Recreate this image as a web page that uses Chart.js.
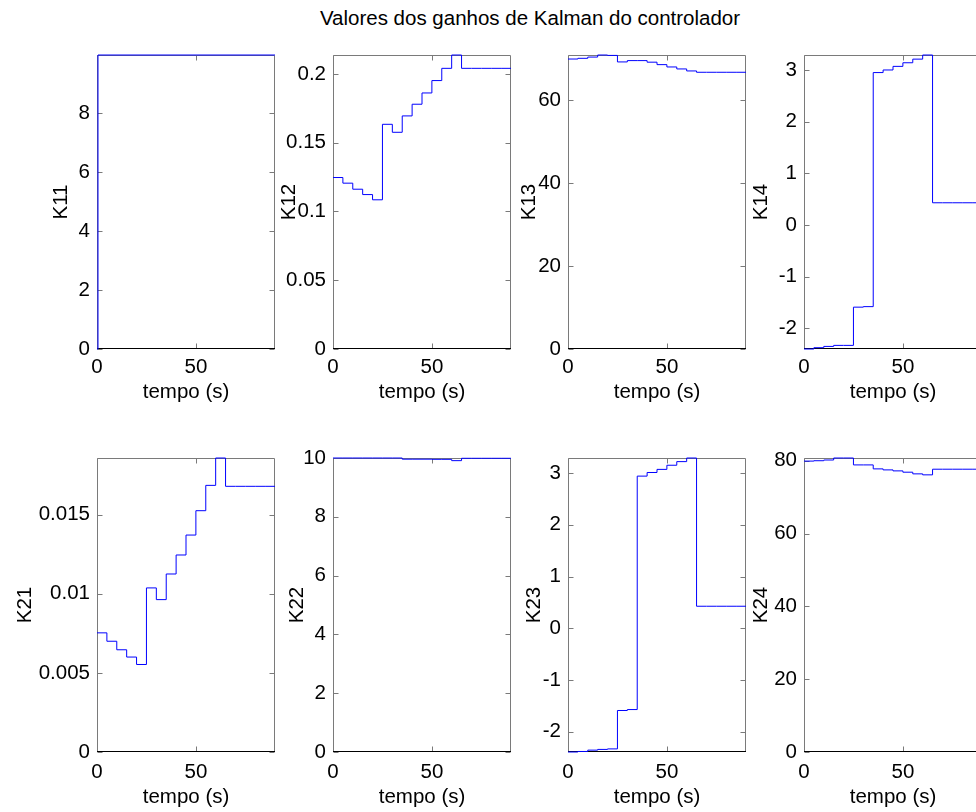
<!DOCTYPE html>
<html>
<head>
<meta charset="utf-8">
<script src="https://cdn.jsdelivr.net/npm/chart.js@4.4.1/dist/chart.umd.min.js"></script>
<style>
  html, body { margin: 0; padding: 0; background: #fff; overflow: hidden; }
  #wrap { position: relative; width: 976px; height: 812px; overflow: hidden; background: #fff; }
  #wrap canvas { position: absolute; }
  #title { position: absolute; left: 0; top: 8px; width: 1060px; text-align: center;
           font-family: "Liberation Sans", Arial, sans-serif; font-size: 20.5px; line-height: 20px; color: #000; white-space: nowrap; }
</style>
</head>
<body>
<div id="wrap">
  <div id="title">Valores dos ganhos de Kalman do controlador</div>
</div>
<script>
// ---------- DATA ----------
const figureTitle = 'Valores dos ganhos de Kalman do controlador';
const xAxisTitle = 'tempo (s)';
const xRange = [0, 90];
const xTicks = [0, 50];
const xTickLabels = ['0', '50'];

// sample times (zero-order hold, value holds until next sample)
const timeGrid = [0, 5, 10, 15, 20, 25, 30, 35, 40, 45, 50, 55, 60, 65, 70, 75, 80, 85, 90];
const timeK11 = [0, 0.5, 90];

const valuesK11 = [0, 9.98, 9.98];
const valuesK12 = [0.1247, 0.1206, 0.1162, 0.1123, 0.1085, 0.1634, 0.1576, 0.1695, 0.1780, 0.1862, 0.1952, 0.2041, 0.2138, 0.2041, 0.2041, 0.2041, 0.2041, 0.2041, 0.2041];
const valuesK13 = [69.83, 70.0, 70.3, 70.8, 70.7, 69.13, 69.45, 69.45, 69.07, 68.48, 67.92, 67.44, 66.96, 66.64, 66.64, 66.64, 66.64, 66.64, 66.64];
const valuesK14 = [-2.40, -2.375, -2.35, -2.33, -2.33, -1.59, -1.58, 2.95, 3.0, 3.07, 3.14, 3.21, 3.29, 0.43, 0.43, 0.43, 0.43, 0.43, 0.43];
const valuesK21 = [0.00753, 0.00700, 0.00646, 0.00600, 0.00553, 0.01037, 0.00963, 0.01125, 0.01245, 0.01371, 0.01525, 0.01685, 0.01858, 0.01679, 0.01679, 0.01679, 0.01679, 0.01679, 0.01679];
const valuesK22 = [10.0, 10.0, 10.0, 10.0, 10.0, 10.0, 10.0, 9.96, 9.96, 9.96, 9.955, 9.955, 9.91, 9.99, 9.99, 9.99, 9.99, 9.99, 9.99];
const valuesK23 = [-2.39, -2.38, -2.354, -2.34, -2.33, -1.588, -1.57, 2.94, 3.01, 3.07, 3.15, 3.22, 3.29, 0.426, 0.426, 0.426, 0.426, 0.426, 0.426];
const valuesK24 = [79.9, 80.0, 80.2, 80.75, 80.75, 78.85, 78.85, 77.76, 77.48, 77.21, 76.85, 76.39, 76.12, 77.67, 77.67, 77.67, 77.67, 77.67, 77.67];

const yRangeK11 = [0, 9.98];   const yTicksK11 = [0, 2, 4, 6, 8];            const yLabelsK11 = ['0', '2', '4', '6', '8'];
const yRangeK12 = [0, 0.2138]; const yTicksK12 = [0, 0.05, 0.1, 0.15, 0.2];  const yLabelsK12 = ['0', '0.05', '0.1', '0.15', '0.2'];
const yRangeK13 = [0, 70.8];   const yTicksK13 = [0, 20, 40, 60];            const yLabelsK13 = ['0', '20', '40', '60'];
const yRangeK14 = [-2.40, 3.29]; const yTicksK14 = [-2, -1, 0, 1, 2, 3];     const yLabelsK14 = ['-2', '-1', '0', '1', '2', '3'];
const yRangeK21 = [0, 0.01858]; const yTicksK21 = [0, 0.005, 0.01, 0.015];   const yLabelsK21 = ['0', '0.005', '0.01', '0.015'];
const yRangeK22 = [0, 10];     const yTicksK22 = [0, 2, 4, 6, 8, 10];        const yLabelsK22 = ['0', '2', '4', '6', '8', '10'];
const yRangeK23 = [-2.39, 3.29]; const yTicksK23 = [-2, -1, 0, 1, 2, 3];     const yLabelsK23 = ['-2', '-1', '0', '1', '2', '3'];
const yRangeK24 = [0, 80.75];  const yTicksK24 = [0, 20, 40, 60, 80];        const yLabelsK24 = ['0', '20', '40', '60', '80'];

// ---------- LAYOUT ----------
const FONT = '"Liberation Sans", Arial, sans-serif';
const FSIZE = 20.5;
const plotW = 178, plotH = 294;
const padTop = 20, padRight = 12;

const panels = [
  { name: 'K11', t: timeK11,  v: valuesK11, r: yRangeK11, tk: yTicksK11, lb: yLabelsK11, left: 97,  top: 55,  yw: 48, xh: 56, xp: 6 },
  { name: 'K12', t: timeGrid, v: valuesK12, r: yRangeK12, tk: yTicksK12, lb: yLabelsK12, left: 333, top: 55,  yw: 56, xh: 56, xp: 6 },
  { name: 'K13', t: timeGrid, v: valuesK13, r: yRangeK13, tk: yTicksK13, lb: yLabelsK13, left: 568, top: 55,  yw: 51, xh: 56, xp: 6 },
  { name: 'K14', t: timeGrid, v: valuesK14, r: yRangeK14, tk: yTicksK14, lb: yLabelsK14, left: 804, top: 55,  yw: 55, xh: 56, xp: 6 },
  { name: 'K21', t: timeGrid, v: valuesK21, r: yRangeK21, tk: yTicksK21, lb: yLabelsK21, left: 97,  top: 458, yw: 84, xh: 58, xp: 8 },
  { name: 'K22', t: timeGrid, v: valuesK22, r: yRangeK22, tk: yTicksK22, lb: yLabelsK22, left: 333, top: 458, yw: 48, xh: 58, xp: 8 },
  { name: 'K23', t: timeGrid, v: valuesK23, r: yRangeK23, tk: yTicksK23, lb: yLabelsK23, left: 568, top: 458, yw: 46, xh: 58, xp: 8 },
  { name: 'K24', t: timeGrid, v: valuesK24, r: yRangeK24, tk: yTicksK24, lb: yLabelsK24, left: 804, top: 458, yw: 55, xh: 58, xp: 8 }
];

const boxPlugin = {
  id: 'matlabBox',
  beforeDatasetsDraw(chart) {
    const { ctx, chartArea: a, scales: { x, y } } = chart;
    const L = Math.round(a.left) + 0.5, R = Math.round(a.right) - 0.5;
    const T = Math.round(a.top) + 0.5, B = Math.round(a.bottom) - 0.5;
    const tl = 5;
    ctx.save();
    ctx.lineWidth = 1;
    ctx.strokeStyle = '#7a7a7a';
    ctx.beginPath();
    ctx.moveTo(L, B); ctx.lineTo(L, T); ctx.lineTo(R, T); ctx.lineTo(R, B);
    x.ticks.forEach(t => {
      const px = Math.round(x.getPixelForValue(t.value)) + 0.5;
      ctx.moveTo(px, B); ctx.lineTo(px, B - tl);
      ctx.moveTo(px, T); ctx.lineTo(px, T + tl);
    });
    y.ticks.forEach(t => {
      const py = Math.round(y.getPixelForValue(t.value)) + 0.5;
      ctx.moveTo(L, py); ctx.lineTo(L + tl, py);
      ctx.moveTo(R, py); ctx.lineTo(R - tl, py);
    });
    ctx.stroke();
    ctx.strokeStyle = '#000';
    ctx.beginPath();
    ctx.moveTo(L - 0.5, B); ctx.lineTo(R + 0.5, B);
    ctx.stroke();
    ctx.restore();
  }
};

const wrap = document.getElementById('wrap');
panels.forEach(p => {
  const cv = document.createElement('canvas');
  const w = p.yw + plotW + padRight;
  const h = padTop + plotH + p.xh;
  cv.width = w; cv.height = h;
  cv.style.width = w + 'px'; cv.style.height = h + 'px';
  cv.style.left = (p.left - p.yw) + 'px';
  cv.style.top = (p.top - padTop) + 'px';
  wrap.appendChild(cv);

  new Chart(cv, {
    type: 'line',
    data: {
      datasets: [{
        data: p.t.map((t, i) => ({ x: t, y: p.v[i] })),
        borderColor: '#0000ff',
        borderWidth: 1,
        pointRadius: 0,
        fill: false,
        stepped: 'before',
        clip: 2
      }]
    },
    options: {
      responsive: false,
      animation: false,
      devicePixelRatio: 1,
      layout: { padding: { top: padTop, right: padRight, left: 0, bottom: 0 } },
      plugins: { legend: { display: false }, tooltip: { enabled: false }, title: { display: false } },
      scales: {
        x: {
          type: 'linear',
          min: xRange[0], max: xRange[1],
          grid: { display: false, drawTicks: false },
          border: { display: false },
          afterBuildTicks: s => { s.ticks = xTicks.map(v => ({ value: v })); },
          afterFit: s => { s.height = p.xh; },
          ticks: {
            autoSkip: false, maxRotation: 0, padding: p.xp, color: '#000',
            font: { family: FONT, size: FSIZE },
            callback: v => xTickLabels[xTicks.indexOf(v)]
          },
          title: { display: true, text: xAxisTitle, color: '#000', padding: 0, font: { family: FONT, size: FSIZE } }
        },
        y: {
          type: 'linear',
          min: p.r[0], max: p.r[1],
          grid: { display: false, drawTicks: false },
          border: { display: false },
          afterBuildTicks: s => { s.ticks = p.tk.map(v => ({ value: v })); },
          afterFit: s => { s.width = p.yw; },
          ticks: {
            autoSkip: false, padding: 7, color: '#000',
            font: { family: FONT, size: FSIZE },
            callback: v => p.lb[p.tk.indexOf(v)]
          },
          title: { display: true, text: p.name, color: '#000', padding: 0, font: { family: FONT, size: FSIZE } }
        }
      }
    },
    plugins: [boxPlugin]
  });
});
</script>
</body>
</html>
